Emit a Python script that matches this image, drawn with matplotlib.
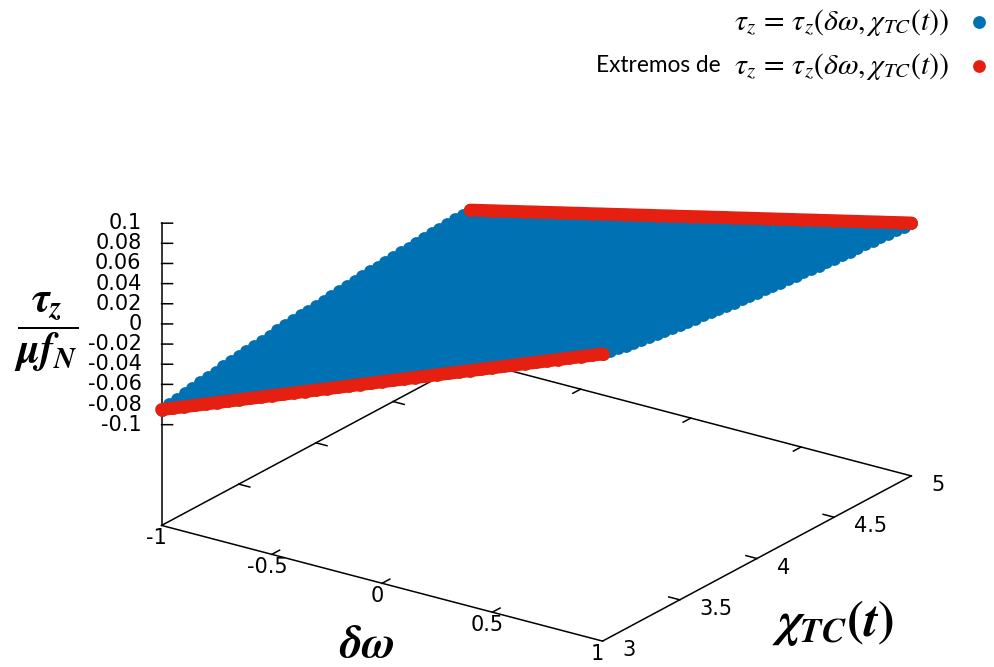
#!/usr/bin/env python3

import numpy as np
import matplotlib
matplotlib.use("Agg")
import matplotlib.pyplot as plt
from mpl_toolkits.mplot3d import proj3d

BLUE = "#0071b3"
RED = "#e62010"

w_ticks = [-1, -0.5, 0, 0.5, 1]
w_labels = ["-1", "-0.5", "0", "0.5", "1"]
chi_ticks = [3, 3.5, 4, 4.5, 5]
chi_labels = ["3", "3.5", "4", "4.5", "5"]
z_ticks = [0.1, 0.08, 0.06, 0.04, 0.02, 0, -0.02, -0.04, -0.06, -0.08, -0.1]
z_labels = ["0.1", "0.08", "0.06", "0.04", "0.02", "0", "-0.02", "-0.04",
            "-0.06", "-0.08", "-0.1"]

# sampled delta omega values along the chi = 3 and chi = 5 borders
w_grid = [-1.00, -0.95, -0.90, -0.85, -0.80, -0.75, -0.70, -0.65, -0.60, -0.55,
          -0.50, -0.45, -0.40, -0.35, -0.30, -0.25, -0.20, -0.15, -0.10, -0.05,
          0.00, 0.05, 0.10, 0.15, 0.20, 0.25, 0.30, 0.35, 0.40, 0.45,
          0.50, 0.55, 0.60, 0.65, 0.70, 0.75, 0.80, 0.85, 0.90, 0.95, 1.00]
tau_chi3 = [-.0850, -.0808, -.0765, -.0723, -.0680, -.0638, -.0595, -.0553,
            -.0510, -.0468, -.0425, -.0383, -.0340, -.0298, -.0255, -.0213,
            -.0170, -.0128, -.0085, -.0043, 0, .0043, .0085, .0128, .0170,
            .0213, .0255, .0298, .0340, .0383, .0425, .0468, .0510, .0553,
            .0595, .0638, .0680, .0723, .0765, .0808, .0850]
tau_chi5 = [-.0510, -.0485, -.0459, -.0434, -.0408, -.0383, -.0357, -.0332,
            -.0306, -.0281, -.0255, -.0230, -.0204, -.0179, -.0153, -.0128,
            -.0102, -.0077, -.0051, -.0026, 0, .0026, .0051, .0077, .0102,
            .0128, .0153, .0179, .0204, .0230, .0255, .0281, .0306, .0332,
            .0357, .0383, .0408, .0434, .0459, .0485, .0510]

# sampled chi values along the delta omega = -1 and = 1 borders
chi_grid = [3.00, 3.05, 3.10, 3.15, 3.20, 3.25, 3.30, 3.35, 3.40, 3.45,
            3.50, 3.55, 3.60, 3.65, 3.70, 3.75, 3.80, 3.85, 3.90, 3.95,
            4.00, 4.05, 4.10, 4.15, 4.20, 4.25, 4.30, 4.35, 4.40, 4.45,
            4.50, 4.55, 4.60, 4.65, 4.70, 4.75, 4.80, 4.85, 4.90, 4.95, 5.00]
tau_high = [.0850, .0836, .0823, .0810, .0797, .0785, .0773, .0761, .0750,
            .0739, .0729, .0718, .0708, .0699, .0689, .0680, .0671, .0662,
            .0654, .0646, .0638, .0630, .0622, .0614, .0607, .0600, .0593,
            .0586, .0580, .0573, .0567, .0560, .0554, .0548, .0543, .0537,
            .0531, .0526, .0520, .0515, .0510]
tau_low = [-.0850, -.0836, -.0823, -.0810, -.0797, -.0785, -.0773, -.0761,
           -.0750, -.0739, -.0729, -.0718, -.0708, -.0699, -.0689, -.0680,
           -.0671, -.0662, -.0654, -.0646, -.0638, -.0630, -.0622, -.0614,
           -.0607, -.0600, -.0593, -.0586, -.0580, -.0573, -.0567, -.0560,
           -.0554, -.0548, -.0543, -.0537, -.0531, -.0526, -.0520, -.0515,
           -.0510]


def tick_label(ax, x, y, z, text, dx, dy, ha):
    # project the anchor, then shift in pixels so the label stays plain 2D text
    px, py, _ = proj3d.proj_transform(x, y, z, ax.get_proj())
    ax.annotate(text, (px, py), xytext=(dx, dy), textcoords="offset pixels",
                ha=ha, va="center", fontsize=15, annotation_clip=False)


def draw_axes(ax, zb):
    # base rectangle, gnuplot style, with the vertical z axis on the left
    base = dict(color="black", lw=1.1, zorder=1)
    ax.plot([-1, 1], [3, 3], [zb, zb], **base)
    ax.plot([-1, 1], [5, 5], [zb, zb], **base)
    ax.plot([-1, -1], [3, 5], [zb, zb], **base)
    ax.plot([1, 1], [3, 5], [zb, zb], **base)
    ax.plot([-1, -1], [3, 3], [zb, 0.1], **base)

    for t, lab in zip(w_ticks, w_labels):
        if abs(t) < 1:
            ax.plot([t, t], [3, 3.05], [zb, zb], **base)
            ax.plot([t, t], [5, 4.95], [zb, zb], **base)
        tick_label(ax, t, 3, zb, lab, -5, -13, "center")

    for t, lab in zip(chi_ticks, chi_labels):
        if 3 < t < 5:
            ax.plot([1, 0.95], [t, t], [zb, zb], **base)
            ax.plot([-1, -0.95], [t, t], [zb, zb], **base)
        tick_label(ax, 1, t, zb, lab, 20, -9, "left")

    for t, lab in zip(z_ticks, z_labels):
        ax.plot([-1, -0.9666], [3, 3.0233], [t, t], **base)
        tick_label(ax, -1, 3, t, lab, -20, 0, "right")


def main():
    plt.rcParams["mathtext.fontset"] = "stix"

    fig = plt.figure(figsize=(9.95, 6.67), dpi=100)
    side = 804
    ax = fig.add_axes([123.6 / 995, -95.4 / 667, side / 995, side / 667],
                      projection="3d", computed_zorder=False,
                      proj_type="ortho")
    ax.view_init(elev=22, azim=-55)
    ax.set_box_aspect((540, 540, 327))
    zb = -0.2
    ax.set_xlim(-1, 1)
    ax.set_ylim(3, 5)
    ax.set_zlim(zb, 0.1)
    ax.set_axis_off()

    draw_axes(ax, zb)

    # solid sheet between the two curved borders
    chi = np.array(chi_grid)
    X = np.array([np.full(chi.size, -1.0), np.full(chi.size, 1.0)])
    Y = np.array([chi, chi])
    Z = np.array([tau_low, tau_high])
    ax.plot_surface(X, Y, Z, color=BLUE, shade=False, rstride=1, cstride=1,
                    edgecolor=BLUE, linewidth=0.6, antialiased=False, zorder=2)

    size = 85
    dots = ax.scatter(X[0], chi, tau_low, s=size, c=BLUE, linewidths=0,
                      depthshade=False, zorder=3)
    ax.scatter(X[1], chi, tau_high, s=size, c=BLUE, linewidths=0,
               depthshade=False, zorder=3)

    # the extremes are so densely sampled in the original they read as a band
    band = dict(color=RED, lw=9.3, solid_capstyle="round", zorder=4)
    ax.plot(w_grid, np.full(len(w_grid), 3.0), tau_chi3, **band)
    ax.plot(w_grid, np.full(len(w_grid), 5.0), tau_chi5, **band)
    ext = ax.scatter(w_grid, np.full(len(w_grid), 3.0), tau_chi3, s=size, c=RED,
                     linewidths=0, depthshade=False, zorder=4)
    ax.scatter(w_grid, np.full(len(w_grid), 5.0), tau_chi5, s=size, c=RED,
               linewidths=0, depthshade=False, zorder=4)

    expr = r"\tau_z\, = \,\tau_z\left(\delta\omega, \chi_{TC}(t)\right)"
    fig.legend([dots, ext], ["$" + expr + "$", "$" + expr + r"\,$"],
               loc="upper right", bbox_to_anchor=(988 / 995, 1 - 7 / 667),
               markerfirst=False, frameon=False, prop={"size": 21.5},
               borderpad=0, borderaxespad=0, handlelength=0.6,
               handletextpad=0.72, labelspacing=0.42)
    fig.text(721 / 995, 1 - 66 / 667, "Extremos de", family="Lato", fontsize=16.3,
             ha="right", va="center")

    fig.text(367 / 995, 1 - 645 / 667, r"$\mathbfit{\delta\omega}$",
             fontsize=33, ha="center", va="center")
    fig.text(833 / 995, 1 - 623 / 667,
             r"$\mathbfit{\chi_{TC}}\mathbf{(}\mathbfit{t}\mathbf{)}$",
             fontsize=36, ha="center", va="center")
    fig.text(46 / 995, 1 - 332 / 667,
             r"$\mathbfit{\dfrac{\tau_z}{\mu f_N}}$",
             fontsize=30, ha="center", va="center")

    fig.savefig("out.png", dpi=100)
    plt.close(fig)


if __name__ == "__main__":
    main()
